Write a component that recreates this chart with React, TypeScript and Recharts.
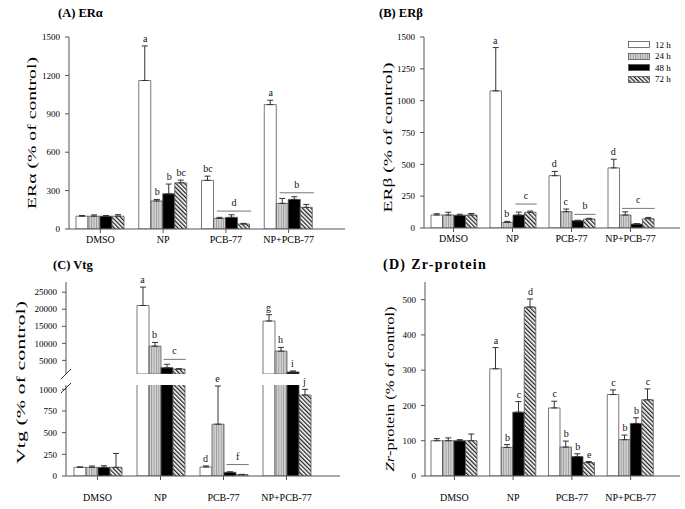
import React from 'react';
import { BarChart, Bar, XAxis, YAxis, ErrorBar, ReferenceDot } from 'recharts';

const FONT = "'Liberation Serif', 'Times New Roman', Times, serif";
const AXIS = '#555';

const categories = ['DMSO', 'NP', 'PCB-77', 'NP+PCB-77'];
const seriesNames = ['12 h', '24 h', '48 h', '72 h'];
const seriesKeys = ['h12', 'h24', 'h48', 'h72'];
const seriesFills = ['#ffffff', 'url(#fill24h)', '#000000', 'url(#fill72h)'];

// (A) ERα
const erA12 = [100, 1160, 380, 972];
const erA24 = [100, 219, 83, 200];
const erA48 = [100, 275, 91, 231];
const erA72 = [100, 361, 39, 169];
const erAErr12 = [5, 270, 33, 34];
const erAErr24 = [10, 12, 8, 39];
const erAErr48 = [5, 76, 20, 21];
const erAErr72 = [12, 21, 5, 23];
const erALetters12 = ['', 'a', 'bc', 'a'];
const erALetters24 = ['', 'b', '', ''];
const erALetters48 = ['', 'b', '', ''];
const erALetters72 = ['', 'bc', '', ''];
const erATicks = [0, 300, 600, 900, 1200, 1500];
const erALines = [
  { category: 'PCB-77', level: 140, first: 1, last: 3, letter: 'd' },
  { category: 'NP+PCB-77', level: 283, first: 1, last: 3, letter: 'b' },
];

// (B) ERβ
const erB12 = [102, 1077, 411, 472];
const erB24 = [102, 44, 128, 102];
const erB48 = [100, 102, 57, 31];
const erB72 = [102, 123, 70, 73];
const erBErr12 = [10, 340, 33, 68];
const erBErr24 = [22, 8, 21, 25];
const erBErr48 = [8, 23, 4, 3];
const erBErr72 = [12, 10, 6, 10];
const erBLetters12 = ['', 'a', 'd', 'd'];
const erBLetters24 = ['', 'b', 'c', ''];
const erBLetters48 = ['', '', '', ''];
const erBLetters72 = ['', '', '', ''];
const erBTicks = [0, 250, 500, 750, 1000, 1250, 1500];
const erBLines = [
  { category: 'NP', level: 188, first: 2, last: 3, letter: 'c' },
  { category: 'PCB-77', level: 107, first: 2, last: 3, letter: 'b' },
  { category: 'NP+PCB-77', level: 154, first: 1, last: 3, letter: 'c' },
];

// (C) Vtg
const vtg12 = [100, 21100, 104, 16550];
const vtg24 = [100, 9170, 598, 7710];
const vtg48 = [100, 2850, 43, 1600];
const vtg72 = [100, 2460, 16, 934];
const vtgErr12 = [5, 5400, 12, 1850];
const vtgErr24 = [15, 1100, 440, 1100];
const vtgErr48 = [18, 1000, 5, 300];
const vtgErr72 = [160, 80, 3, 66];
const vtgLetters12 = ['', 'a', 'd', 'g'];
const vtgLetters24 = ['', 'b', 'e', 'h'];
const vtgLetters48 = ['', '', '', 'i'];
const vtgLetters72 = ['', '', '', 'j'];
const vtgUpperTicks = [5000, 10000, 15000, 20000, 25000];
const vtgLowerTicks = [0, 250, 500, 750, 1000];
const vtgUpperDomain: [number, number] = [1000, 28000];
const vtgLowerDomain: [number, number] = [0, 1050];
const vtgLines = [
  { category: 'NP', level: 5300, first: 2, last: 3, letter: 'c' },
  { category: 'PCB-77', level: 132, first: 2, last: 3, letter: 'f' },
];

// (D) Zr-protein
const zr12 = [100, 304, 193, 231];
const zr24 = [100, 81, 82, 103];
const zr48 = [100, 181, 55, 149];
const zr72 = [100, 479, 38, 216];
const zrErr12 = [6, 60, 19, 13];
const zrErr24 = [8, 8, 17, 13];
const zrErr48 = [3, 30, 8, 16];
const zrErr72 = [19, 23, 3, 31];
const zrLetters12 = ['', 'a', 'c', 'c'];
const zrLetters24 = ['', 'b', 'b', 'b'];
const zrLetters48 = ['', 'c', 'b', 'b'];
const zrLetters72 = ['', 'd', 'e', 'c'];
const zrTicks = [0, 100, 200, 300, 400, 500];

type GroupLine = { category: string; level: number; first: number; last: number; letter: string };

interface PanelProps {
  left: number;
  top: number;
  width: number;
  height: number;
  margin: { top: number; right: number; bottom: number; left: number };
  yAxisWidth: number;
  xAxisHeight: number;
  xTickMargin: number;
  hideX?: boolean;
  xPadRight: number;
  domain: [number, number];
  ticks: number[];
  values: number[][];
  errors: number[][];
  letters: string[][];
  lines: GroupLine[];
  barSize: number;
  showBar: (v: number) => boolean;
  showErr: (v: number) => boolean;
  showRef: (level: number) => boolean;
  yLabel?: React.ReactNode;
  yLabelDx?: number;
  yLabelDy?: number;
  yLabelLen?: number;
}

function buildRows(p: PanelProps) {
  return categories.map((c, i) => {
    const row: any = { category: c };
    seriesKeys.forEach((k, s) => {
      const v = p.values[s][i];
      const shown = p.showBar(v);
      row[k] = shown ? v : null;
      row[k + 'err'] = shown && p.showErr(v) ? [0, p.errors[s][i]] : null;
    });
    return row;
  });
}

const letterStyle = { fontFamily: FONT, fontSize: 10, fill: '#111' };

function Panel(p: PanelProps) {
  const rows = buildRows(p);
  const bs = p.barSize;
  const letterDots: React.ReactNode[] = [];
  p.letters.forEach((arr, s) =>
    arr.forEach((letter, i) => {
      if (!letter) return;
      const level = p.values[s][i] + p.errors[s][i];
      if (!p.showRef(level)) return;
      letterDots.push(
        <ReferenceDot
          key={`l${s}-${i}`}
          x={categories[i]}
          y={level}
          r={0}
          ifOverflow="discard"
          shape={(d: any) => (
            <text x={d.cx + (s - 1.5) * bs} y={d.cy - 4} textAnchor="middle" {...letterStyle}>
              {letter}
            </text>
          )}
        />
      );
    })
  );
  const lineDots = p.lines
    .filter((l) => p.showRef(l.level))
    .map((l, j) => (
      <ReferenceDot
        key={`g${j}`}
        x={l.category}
        y={l.level}
        r={0}
        ifOverflow="discard"
        shape={(d: any) => {
          const x1 = d.cx - 2 * bs + (l.first + 0.25) * bs;
          const x2 = d.cx - 2 * bs + (l.last + 1.1) * bs;
          return (
            <g>
              <line x1={x1} x2={x2} y1={d.cy} y2={d.cy} stroke="#777" strokeWidth={1} />
              <text x={(x1 + x2) / 2} y={d.cy - 5} textAnchor="middle" {...letterStyle}>
                {l.letter}
              </text>
            </g>
          );
        }}
      />
    ));

  const labelProp = p.yLabel
    ? {
        content: (props: any) => {
          const vb = props.viewBox ?? { x: 0, y: 0, width: 0, height: 0 };
          const cx = (vb.x ?? 0) + (p.yLabelDx ?? 0);
          const cy = (vb.y ?? 0) + (vb.height ?? 0) / 2 + (p.yLabelDy ?? 0);
          return (
            <text
              x={cx}
              y={cy}
              transform={`rotate(-90 ${cx} ${cy})`}
              textAnchor="middle"
              dominantBaseline="central"
              fontFamily={FONT}
              fontSize={13.5}
              fill="#000"
              textLength={p.yLabelLen}
              lengthAdjust="spacingAndGlyphs"
            >
              {p.yLabel}
            </text>
          );
        },
      }
    : undefined;

  return (
    <div style={{ position: 'absolute', left: p.left, top: p.top }}>
      <BarChart
        width={p.width}
        height={p.height}
        data={rows}
        margin={p.margin}
        barSize={bs}
        barGap={0}
        barCategoryGap={0}
      >
        <XAxis
          dataKey="category"
          hide={p.hideX}
          height={p.xAxisHeight}
          interval={0}
          padding={{ left: 0, right: p.xPadRight }}
          stroke={AXIS}
          tickSize={4}
          tickMargin={p.xTickMargin}
          tick={{ fontSize: 10, fill: '#000', fontFamily: FONT }}
        />
        <YAxis
          type="number"
          domain={p.domain}
          ticks={p.ticks}
          allowDataOverflow
          interval={0}
          width={p.yAxisWidth}
          stroke={AXIS}
          tickSize={4}
          tickMargin={5}
          tick={{ fontSize: 9, fill: '#000', fontFamily: FONT }}
          label={labelProp as any}
        />
        {seriesKeys.map((k, s) => (
          <Bar
            key={k}
            dataKey={k}
            name={seriesNames[s]}
            fill={seriesFills[s]}
            stroke="#555"
            strokeWidth={0.8}
            isAnimationActive={false}
          >
            <ErrorBar dataKey={k + 'err'} width={3} stroke="#333" strokeWidth={1} direction="y" />
          </Bar>
        ))}
        {lineDots}
        {letterDots}
      </BarChart>
    </div>
  );
}

const always = () => true;
const titleStyle: React.CSSProperties = {
  position: 'absolute',
  fontFamily: FONT,
  fontWeight: 'bold',
  fontSize: 12.5,
  color: '#000',
  whiteSpace: 'nowrap',
  lineHeight: 1,
};

export default function App() {
  const lowerMax = vtgLowerDomain[1];
  return (
    <div
      style={{
        position: 'absolute',
        left: 0,
        top: 0,
        width: 685,
        height: 509,
        background: '#fff',
        overflow: 'hidden',
      }}
    >
      <svg width={0} height={0} style={{ position: 'absolute' }}>
        <defs>
          <pattern id="fill24h" width="2.4" height="4" patternUnits="userSpaceOnUse">
            <rect width="2.4" height="4" fill="#d4d4d4" />
            <rect width="0.9" height="4" fill="#9a9a9a" />
          </pattern>
          <pattern
            id="fill72h"
            width="3"
            height="3"
            patternUnits="userSpaceOnUse"
            patternTransform="rotate(-45)"
          >
            <rect width="3" height="3" fill="#ffffff" />
            <rect width="1.3" height="3" fill="#222" />
          </pattern>
        </defs>
      </svg>

      {/* (A) */}
      <Panel
        left={0}
        top={0}
        width={350}
        height={250}
        margin={{ top: 37, right: 5, bottom: 0, left: 0 }}
        yAxisWidth={69}
        xAxisHeight={21}
        xTickMargin={3}
        xPadRight={25}
        domain={[0, 1500]}
        ticks={erATicks}
        values={[erA12, erA24, erA48, erA72]}
        errors={[erAErr12, erAErr24, erAErr48, erAErr72]}
        letters={[erALetters12, erALetters24, erALetters48, erALetters72]}
        lines={erALines}
        barSize={12}
        showBar={always}
        showErr={always}
        showRef={always}
        yLabel="ERα (% of control)"
        yLabelDx={31}
        yLabelDy={0}
        yLabelLen={152}
      />

      {/* (B) */}
      <Panel
        left={340}
        top={0}
        width={345}
        height={250}
        margin={{ top: 37, right: 5, bottom: 0, left: 0 }}
        yAxisWidth={84}
        xAxisHeight={22}
        xTickMargin={3}
        xPadRight={20}
        domain={[0, 1500]}
        ticks={erBTicks}
        values={[erB12, erB24, erB48, erB72]}
        errors={[erBErr12, erBErr24, erBErr48, erBErr72]}
        letters={[erBLetters12, erBLetters24, erBLetters48, erBLetters72]}
        lines={erBLines}
        barSize={11.5}
        showBar={always}
        showErr={always}
        showRef={always}
        yLabel="ERβ (% of control)"
        yLabelDx={47}
        yLabelDy={5}
        yLabelLen={150}
      />

      {/* (C) lower */}
      <Panel
        left={0}
        top={250}
        width={345}
        height={256}
        margin={{ top: 135, right: 5, bottom: 0, left: 0 }}
        yAxisWidth={66}
        xAxisHeight={30}
        xTickMargin={14}
        xPadRight={22}
        domain={vtgLowerDomain}
        ticks={vtgLowerTicks}
        values={[vtg12, vtg24, vtg48, vtg72]}
        errors={[vtgErr12, vtgErr24, vtgErr48, vtgErr72]}
        letters={[vtgLetters12, vtgLetters24, vtgLetters48, vtgLetters72]}
        lines={vtgLines}
        barSize={12}
        showBar={always}
        showErr={(v) => v <= lowerMax}
        showRef={(lv) => lv <= lowerMax}
        yLabel="Vtg (% of control)"
        yLabelDx={20}
        yLabelDy={-48}
        yLabelLen={163}
      />
      {/* (C) upper */}
      <Panel
        left={0}
        top={250}
        width={345}
        height={256}
        margin={{ top: 32, right: 5, bottom: 132, left: 0 }}
        yAxisWidth={66}
        xAxisHeight={0}
        xTickMargin={0}
        hideX
        xPadRight={22}
        domain={vtgUpperDomain}
        ticks={vtgUpperTicks}
        values={[vtg12, vtg24, vtg48, vtg72]}
        errors={[vtgErr12, vtgErr24, vtgErr48, vtgErr72]}
        letters={[vtgLetters12, vtgLetters24, vtgLetters48, vtgLetters72]}
        lines={vtgLines}
        barSize={12}
        showBar={(v) => v > lowerMax}
        showErr={(v) => v > lowerMax}
        showRef={(lv) => lv > lowerMax}
      />
      <svg width={30} height={40} style={{ position: 'absolute', left: 51, top: 360 }}>
        <line x1={10} y1={19} x2={20} y2={9} stroke="#333" strokeWidth={1} />
        <line x1={10} y1={33} x2={20} y2={23} stroke="#333" strokeWidth={1} />
      </svg>

      {/* (D) */}
      <Panel
        left={340}
        top={250}
        width={345}
        height={256}
        margin={{ top: 32, right: 5, bottom: 0, left: 0 }}
        yAxisWidth={85}
        xAxisHeight={30}
        xTickMargin={14}
        xPadRight={20}
        domain={[0, 550]}
        ticks={zrTicks}
        values={[zr12, zr24, zr48, zr72]}
        errors={[zrErr12, zrErr24, zrErr48, zrErr72]}
        letters={[zrLetters12, zrLetters24, zrLetters48, zrLetters72]}
        lines={[]}
        barSize={11.5}
        showBar={always}
        showErr={always}
        showRef={always}
        yLabel={
          <>
            <tspan fontStyle="italic">Zr</tspan>-protein (% of control)
          </>
        }
        yLabelDx={49}
        yLabelDy={10}
        yLabelLen={165}
      />

      {/* Titles */}
      <div style={{ ...titleStyle, left: 58, top: 7 }}>(A) ERα</div>
      <div style={{ ...titleStyle, left: 379, top: 7 }}>(B) ERβ</div>
      <div style={{ ...titleStyle, left: 53, top: 259 }}>(C) Vtg</div>
      <div style={{ ...titleStyle, left: 383, top: 258, fontSize: 14, letterSpacing: 1.3 }}>(D) Zr-protein</div>

      {/* Legend */}
      <div style={{ position: 'absolute', left: 628, top: 39, fontFamily: FONT, fontSize: 9, color: '#000' }}>
        {seriesNames.map((n, s) => (
          <div key={n} style={{ display: 'flex', alignItems: 'center', height: 11.5 }}>
            <svg width={22} height={7}>
              <rect x={0.5} y={0.5} width={21} height={6} fill={seriesFills[s]} stroke="#555" strokeWidth={0.8} />
            </svg>
            <span style={{ marginLeft: 5 }}>{n}</span>
          </div>
        ))}
      </div>
    </div>
  );
}
